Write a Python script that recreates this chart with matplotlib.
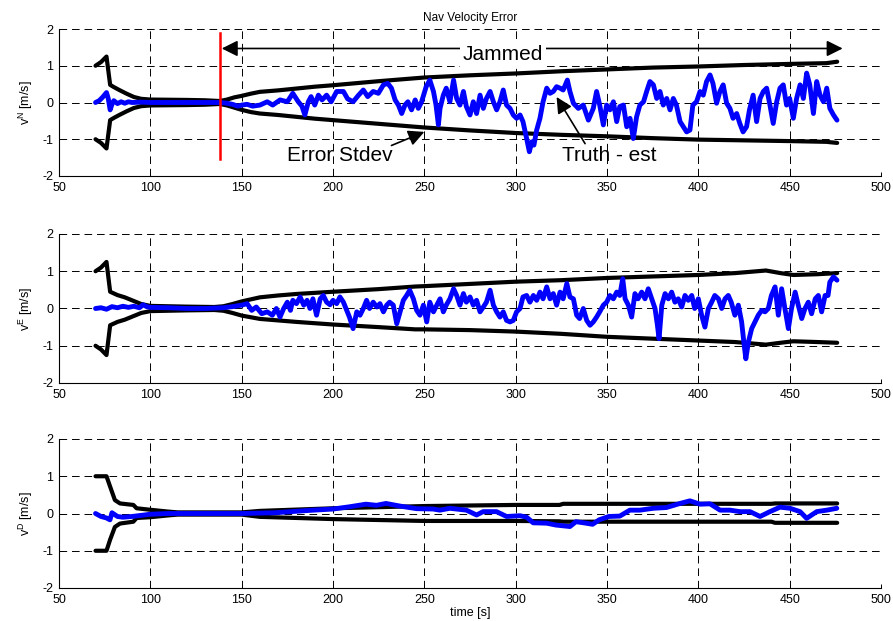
import matplotlib
matplotlib.use("Agg")
import matplotlib.pyplot as plt
import numpy as np

plt.rcParams['font.family'] = ['Liberation Sans', 'DejaVu Sans']
plt.rcParams['lines.scale_dashes'] = False

# ---------------- data ----------------
# Panel N : truth - estimate
tN = [70, 72, 74, 76, 77, 78, 79, 80, 82, 84, 86, 88, 90, 95, 100, 110, 120, 130, 138, 142, 145, 148, 150, 153, 156, 160, 164, 167, 171, 175, 178, 181, 183, 184.6, 186.5, 188, 190, 192, 194, 196.5, 199, 202, 205.7, 208, 211, 214, 216.6, 219, 222, 224.8, 227.6, 230, 232, 234, 235.8, 237.6, 239.4, 241, 243, 245, 246.7, 248.5, 251, 253, 255, 256.4, 257.7, 258.6, 260.4, 262, 264, 266, 267.7, 269.5, 271.4, 273, 275, 276.8, 278.6, 280.5, 282.3, 284, 286, 287.8, 289.6, 291.4, 293.2, 295, 296.9, 298.7, 300.5, 302.4, 304, 306, 307.5, 308.8, 310, 311.5, 313.3, 315, 317, 318.8, 320.6, 322.4, 324.3, 326, 328.3, 329.7, 331.6, 334.3, 337, 339.8, 342.5, 344.3, 346, 348, 349.8, 351.6, 353.5, 355.3, 357, 359, 360.8, 362.6, 364.4, 366.2, 368, 370, 371.7, 373.5, 375.4, 377.2, 379, 380.8, 382.7, 384.5, 386.3, 388, 390, 391.8, 393.6, 395.4, 397, 399, 400.9, 402.7, 404.5, 406.4, 408, 410, 411.8, 413.6, 415.5, 417.3, 419, 421, 422.7, 424.5, 426.4, 428, 430, 431.9, 433.8, 435.6, 437.4, 439.2, 441, 442.9, 444.7, 446.5, 448.3, 450, 452, 453.8, 455.7, 457.5, 459.3, 461, 463, 464.8, 466.6, 468.5, 470.3, 472, 474, 475.9]
vN = [0.0, 0.05, 0.15, 0.27, 0.1, -0.2, -0.05, 0.05, -0.03, 0.02, -0.02, 0.02, 0.0, 0.01, 0.0, 0.0, 0.0, 0.0, 0.0, -0.02, -0.05, -0.1, -0.07, -0.05, -0.1, -0.07, 0.02, -0.07, 0.07, 0.02, 0.25, 0.02, -0.1, -0.34, 0.02, 0.16, -0.07, 0.2, 0.07, 0.2, 0.02, 0.3, 0.3, 0.1, 0.02, 0.2, 0.34, 0.16, 0.3, 0.25, 0.48, 0.52, 0.39, 0.07, -0.07, -0.3, -0.07, 0.02, -0.2, 0.07, -0.16, 0.02, 0.43, 0.61, 0.3, -0.07, -0.61, -0.16, 0.2, 0.39, 0.02, 0.61, 0.11, -0.07, 0.3, -0.11, -0.34, 0.02, -0.3, 0.2, -0.16, 0.11, 0.3, 0.02, -0.2, 0.02, 0.34, -0.07, -0.16, -0.34, -0.43, -0.34, -0.52, -0.98, -1.34, -1.07, -1.16, -0.75, -0.43, 0.02, 0.39, 0.25, 0.3, 0.43, 0.39, 0.34, 0.61, 0.3, -0.02, -0.16, -0.07, -0.48, -0.16, 0.3, -0.07, -0.61, -0.07, -0.2, 0.02, -0.52, -0.11, -0.07, -0.66, -0.43, -0.98, -0.39, -0.07, 0.02, 0.3, 0.57, 0.48, 0.11, 0.3, -0.07, 0.11, -0.2, 0.11, -0.07, -0.52, -0.66, -0.8, -0.75, -0.07, 0.02, 0.3, 0.2, 0.57, 0.75, 0.52, -0.02, 0.3, 0.48, -0.02, -0.16, -0.43, -0.3, -0.57, -0.8, -0.66, -0.2, 0.2, -0.52, 0.11, 0.3, 0.39, -0.07, -0.57, 0.02, 0.39, 0.48, -0.07, 0.11, -0.43, 0.11, 0.48, 0.11, 0.8, 0.48, -0.3, 0.57, 0.2, 0.02, 0.39, -0.16, -0.34, -0.48]
# Panel N : error standard deviation envelope
sN_t = [70, 73, 76, 78, 80, 83, 87, 91, 95, 100, 120, 130, 138, 142, 146, 150, 155, 160, 170, 180, 190, 200, 225, 250, 275, 300, 325, 350, 375, 400, 425, 450, 470, 476]
sN_up = [1.0, 1.1, 1.25, 0.48, 0.42, 0.34, 0.24, 0.15, 0.1, 0.08, 0.07, 0.06, 0.04, 0.08, 0.14, 0.18, 0.24, 0.29, 0.33, 0.38, 0.43, 0.47, 0.58, 0.68, 0.74, 0.79, 0.85, 0.9, 0.95, 0.98, 1.02, 1.05, 1.07, 1.11]
sN_lo = [-1.0, -1.1, -1.25, -0.48, -0.42, -0.34, -0.24, -0.15, -0.1, -0.08, -0.07, -0.06, -0.04, -0.08, -0.14, -0.2, -0.26, -0.3, -0.34, -0.39, -0.44, -0.48, -0.58, -0.68, -0.76, -0.83, -0.88, -0.92, -0.97, -1.01, -1.03, -1.05, -1.07, -1.1]

# Panel E
tE = [70, 73, 76, 79, 82, 85, 88, 91, 94, 96, 98, 100, 110, 120, 130, 140, 145, 150, 153, 155.5, 158, 161, 164, 166.8, 169, 171, 173, 175, 176.7, 178, 180, 182, 184, 185.8, 187.4, 189, 191, 193, 194.7, 196.5, 198.4, 200, 202, 203.8, 205.7, 207.5, 209, 211, 213, 214.8, 216.6, 218.4, 220, 222, 224, 225.7, 227.6, 229.4, 231, 233, 234.9, 236.7, 238.5, 240.3, 242, 244, 245.8, 247.6, 249.5, 251.3, 253, 255, 256.8, 258.6, 260.4, 262, 264, 266, 267.7, 269.5, 271.4, 273, 275, 276.8, 278.6, 280.5, 282.3, 284, 286, 287.8, 289.6, 291.4, 293.2, 295, 296.9, 298.7, 300.5, 302.4, 304, 306, 307.8, 309.7, 311.5, 313.3, 315, 317, 318.8, 320.6, 322.4, 324.3, 326, 328, 329.7, 331.6, 333.4, 335, 337, 338.9, 340.7, 342.5, 344.3, 346, 348, 349.8, 351.6, 353.5, 355.3, 357, 358.6, 359.9, 361.7, 363.5, 365.3, 367, 369, 370.8, 372.6, 374.5, 376.3, 377.6, 378.5, 380, 381.8, 383.6, 385.4, 387.2, 389, 390.9, 392.7, 394.5, 396.4, 398, 400, 401.8, 403.6, 405.5, 407.3, 409, 411, 412.8, 414.6, 416.4, 418, 420, 421.9, 423.7, 425, 426, 427.4, 429.2, 431, 432.8, 434.7, 436.5, 438.3, 440, 442, 443.8, 445.6, 447.4, 449.3, 451, 453, 454.7, 456.6, 458.4, 460.2, 462, 464, 465.7, 467.5, 469.4, 471, 472, 474, 475.9]
vE = [0.0, 0.02, -0.02, 0.05, 0.02, 0.06, 0.03, 0.06, 0.02, 0.1, 0.05, 0.03, 0.02, 0.0, 0.0, 0.02, 0.05, 0.09, 0.13, -0.05, 0.04, -0.14, -0.09, -0.18, 0.0, -0.23, 0.0, 0.17, -0.05, 0.22, 0.13, 0.31, 0.09, 0.22, 0.0, 0.26, -0.18, 0.26, 0.35, 0.17, 0.1, 0.22, 0.13, 0.31, 0.17, -0.05, -0.23, -0.54, -0.09, -0.18, 0.0, 0.22, 0.0, 0.17, 0.04, 0.13, -0.09, 0.09, 0.17, 0.09, -0.41, -0.09, 0.22, 0.35, 0.49, 0.26, -0.05, -0.18, 0.09, -0.36, 0.17, -0.09, 0.09, 0.26, -0.09, 0.09, 0.26, 0.53, 0.35, 0.09, 0.4, 0.17, 0.31, 0.09, 0.22, -0.09, 0.04, 0.17, 0.49, 0.09, -0.09, -0.23, -0.09, -0.32, -0.36, -0.32, -0.09, 0.0, 0.31, 0.35, 0.17, 0.35, 0.22, 0.44, 0.26, 0.58, 0.26, 0.4, 0.09, 0.44, 0.26, 0.67, 0.31, 0.26, -0.18, -0.27, 0.0, -0.32, -0.45, -0.36, -0.23, -0.09, 0.09, 0.17, 0.35, 0.26, 0.44, 0.35, 0.8, 0.26, 0.09, -0.23, 0.4, 0.26, 0.44, 0.26, 0.53, 0.26, 0.0, -0.45, -0.81, 0.09, 0.4, 0.26, 0.44, 0.17, 0.26, 0.04, 0.35, 0.22, 0.35, 0.0, 0.26, -0.18, -0.5, 0.0, 0.17, 0.35, 0.26, 0.0, 0.26, 0.35, 0.17, -0.18, 0.09, -0.36, -0.94, -1.35, -0.9, -0.54, -0.36, -0.18, -0.05, -0.09, 0.0, 0.35, 0.58, -0.18, 0.53, 0.0, -0.54, 0.0, 0.44, 0.09, -0.27, 0.0, 0.17, -0.14, 0.26, 0.35, -0.09, 0.35, 0.35, 0.71, 0.85, 0.76]
sE_t = [70, 73, 76, 78, 82, 86, 90, 95, 100, 120, 135, 140, 145, 150, 160, 170, 180, 200, 225, 245, 250, 275, 300, 325, 350, 375, 400, 420, 437, 445, 452, 465, 476]
sE_up = [1.0, 1.1, 1.25, 0.45, 0.36, 0.3, 0.22, 0.12, 0.07, 0.05, 0.04, 0.06, 0.12, 0.19, 0.3, 0.35, 0.39, 0.45, 0.52, 0.59, 0.6, 0.66, 0.72, 0.76, 0.82, 0.86, 0.9, 0.95, 1.02, 0.95, 0.9, 0.92, 0.95]
sE_lo = [-1.0, -1.1, -1.25, -0.45, -0.36, -0.3, -0.22, -0.12, -0.07, -0.05, -0.04, -0.06, -0.12, -0.19, -0.28, -0.32, -0.36, -0.43, -0.5, -0.56, -0.56, -0.58, -0.62, -0.68, -0.76, -0.81, -0.86, -0.9, -0.97, -0.92, -0.88, -0.9, -0.92]

# Panel D
tD = [70, 73, 76, 77.9, 79, 82, 85, 90, 95, 100, 110, 130, 150, 168, 186, 200, 209, 218, 223.8, 229, 236.6, 245.7, 254.8, 258.5, 264, 273, 278.6, 282.2, 289.5, 295, 302.4, 306, 309.6, 317, 322, 329.7, 333, 338.5, 342.1, 345.7, 351, 357, 362.5, 368, 375.3, 382.5, 390, 395.4, 400.9, 406.4, 411.9, 417.3, 422.8, 428.3, 433.8, 439.2, 444.7, 450.2, 455.7, 459.3, 464.8, 470.3, 475.8]
vD = [0.0, -0.08, -0.12, -0.17, 0.02, -0.08, -0.1, -0.08, -0.05, -0.02, 0.0, 0.0, 0.0, 0.02, 0.08, 0.12, 0.18, 0.25, 0.22, 0.27, 0.2, 0.13, 0.12, 0.09, 0.14, 0.09, -0.04, 0.05, 0.05, -0.08, -0.06, -0.1, -0.25, -0.26, -0.31, -0.35, -0.22, -0.26, -0.29, -0.17, -0.08, -0.07, 0.09, 0.09, 0.14, 0.16, 0.27, 0.34, 0.25, 0.26, 0.09, 0.09, 0.05, 0.05, -0.08, 0.05, 0.17, 0.14, 0.05, -0.13, 0.05, 0.09, 0.14]
sD_t = [70, 76, 78, 80.6, 83.4, 90.7, 92.5, 100, 110, 115, 150, 160, 200, 250, 300, 324, 326, 440, 442, 476]
sD_up = [1.0, 1.0, 0.72, 0.36, 0.27, 0.23, 0.14, 0.1, 0.05, 0.03, 0.03, 0.07, 0.14, 0.2, 0.23, 0.23, 0.26, 0.26, 0.27, 0.27]
sD_lo = [-1.0, -1.0, -0.7, -0.36, -0.27, -0.22, -0.12, -0.1, -0.05, -0.03, -0.03, -0.09, -0.15, -0.2, -0.2, -0.21, -0.22, -0.22, -0.25, -0.25]

xticks = [50, 100, 150, 200, 250, 300, 350, 400, 450, 500]
yticks = [-2, -1, 0, 1, 2]
ylabels = [r'$\mathregular{v^N}$ [m/s]', r'$\mathregular{v^E}$ [m/s]', r'$\mathregular{v^D}$ [m/s]']
jam_start = 138.3
jam_end = 479

# ---------------- figure ----------------
W, H = 893, 621
fig = plt.figure(figsize=(W / 100, H / 100), dpi=100)
left = 59 / W
width = 822 / W
rects = [(29, 176), (234, 383), (439, 588)]

panels = [(tN, vN, sN_t, sN_up, sN_lo), (tE, vE, sE_t, sE_up, sE_lo), (tD, vD, sD_t, sD_up, sD_lo)]
axes = []
for i, ((top, bot), (t, v, st, su, sl)) in enumerate(zip(rects, panels)):
    ax = fig.add_axes([left, 1 - bot / H, width, (bot - top) / H])
    axes.append(ax)
    ax.plot(st, su, color='black', lw=3.0, solid_joinstyle='round', solid_capstyle='round', zorder=3)
    ax.plot(st, sl, color='black', lw=3.0, solid_joinstyle='round', solid_capstyle='round', zorder=3)
    ax.plot(t, v, color='#0000ff', lw=3.5, solid_joinstyle='round', solid_capstyle='round', zorder=4)
    ax.set_xlim(50, 500)
    ax.set_ylim(-2, 2)
    ax.set_xticks(xticks)
    ax.set_yticks(yticks)
    ax.set_yticklabels(['-2', '-1', '0', '1', '2'])
    ax.grid(True, color='black', lw=0.7, linestyle=(0, (5.5, 3.5)))
    ax.tick_params(direction='in', length=3, labelsize=9, width=0.7, pad=4)
    for s in ['top', 'right']:
        ax.spines[s].set_visible(False)
    for s in ['left', 'bottom']:
        ax.spines[s].set_linewidth(0.8)
    ax.set_ylabel(ylabels[i], fontsize=9, labelpad=5)
    ax.set_axisbelow(True)

ax0 = axes[0]
ax0.set_title('Nav Velocity Error', fontsize=8.5, pad=6)
ax0.plot([jam_start, jam_start], [-1.55, 1.9], color='#ff0000', lw=1.8, zorder=6)
ax0.annotate('', xy=(jam_start + 0.8, 1.47), xytext=(jam_end, 1.47),
             arrowprops=dict(arrowstyle='<|-|>', color='black', lw=1.2,
                             mutation_scale=24, shrinkA=0, shrinkB=0), zorder=7)
ax0.text(293, 1.3, 'Jammed', fontsize=15, ha='center', va='center', zorder=8,
         bbox=dict(boxstyle='square,pad=0.15', fc='white', ec='none'))
ax0.text(204, -1.43, 'Error Stdev', fontsize=15, ha='center', va='center', zorder=8)
ax0.annotate('', xy=(250, -0.8), xytext=(232, -1.17),
             arrowprops=dict(arrowstyle='-|>', color='black', lw=1.2,
                             mutation_scale=24, shrinkA=0, shrinkB=0), zorder=8)
ax0.text(351, -1.43, 'Truth - est', fontsize=15, ha='center', va='center', zorder=8)
ax0.annotate('', xy=(322.4, 0.15), xytext=(338, -1.12),
             arrowprops=dict(arrowstyle='-|>', color='black', lw=1.2,
                             mutation_scale=24, shrinkA=0, shrinkB=0), zorder=8)

axes[2].set_xlabel('time [s]', fontsize=9, labelpad=1)

fig.savefig('out.png', dpi=100)
